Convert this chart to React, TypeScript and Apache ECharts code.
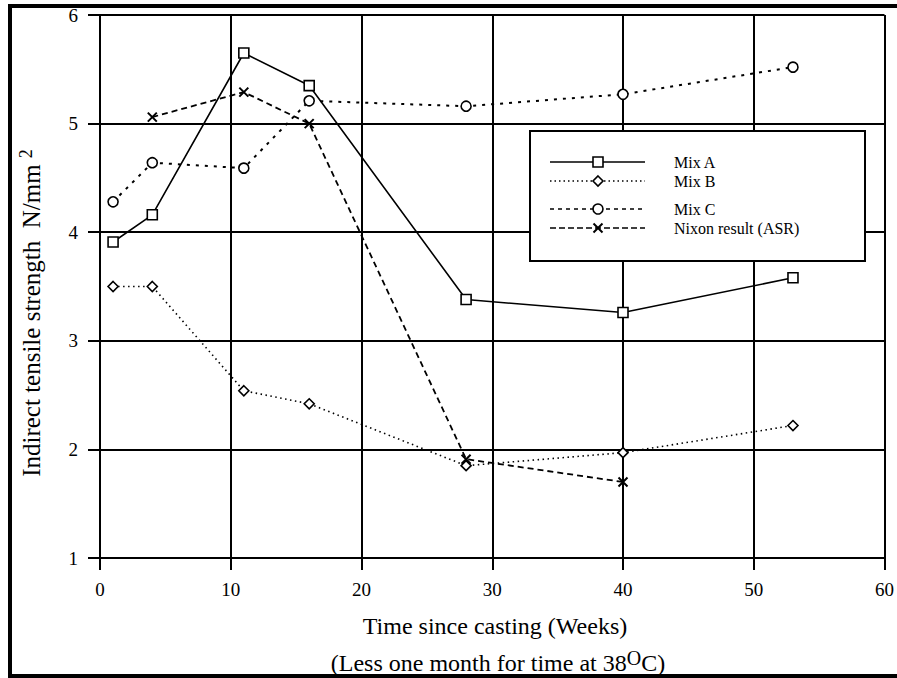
import React, { useEffect, useRef } from "react";
import * as echarts from "echarts";

// Time since casting (weeks) at which each mix was tested
const weeks = [1, 4, 11, 16, 28, 40, 53];
// Indirect tensile strength, N/mm²
const mixA = [3.91, 4.16, 5.65, 5.35, 3.38, 3.26, 3.58];
const mixB = [3.5, 3.5, 2.54, 2.42, 1.85, 1.97, 2.22];
const mixC = [4.28, 4.64, 4.59, 5.21, 5.16, 5.27, 5.52];
const nixonWeeks = [4, 11, 16, 28, 40];
const nixon = [5.06, 5.29, 5.0, 1.91, 1.7];

const seriesNames = ["Mix A", "Mix B", "Mix C", "Nixon result (ASR)"];

const SERIF = "'Liberation Serif', 'Times New Roman', serif";
const CROSS = "path://M0,0L10,10M10,0L0,10";

export default function App() {
  const ref = useRef<HTMLDivElement>(null);

  useEffect(() => {
    const chart = echarts.init(ref.current!, null, { renderer: "svg" });
    const pair = (xs: number[], ys: number[]) => xs.map((x, i) => [x, ys[i]]);

    const lineDefs = [
      { data: pair(weeks, mixA), symbol: "rect", size: 10, dash: "solid" as any, width: 1.6 },
      { data: pair(weeks, mixB), symbol: "diamond", size: 10, dash: [1.5, 3.5], width: 1.6 },
      { data: pair(weeks, mixC), symbol: "circle", size: 10, dash: [3, 6], width: 2 },
      { data: pair(nixonWeeks, nixon), symbol: CROSS, size: 9, dash: [6, 4], width: 1.8 },
    ];

    // legend rows: centre y of each entry inside the box
    const legendRows = [162, 181, 209, 228];
    const legendDash: any[] = [null, [1.5, 3], [4, 4], [6, 3]];
    const lx0 = 550;
    const lx1 = 645;
    const lmid = 598;

    const legendGraphics: any[] = [
      {
        type: "rect",
        z: 100,
        shape: { x: 530, y: 131, width: 335, height: 130 },
        style: { fill: "#fff", stroke: "#000", lineWidth: 2 },
      },
    ];
    seriesNames.forEach((name, i) => {
      const y = legendRows[i];
      legendGraphics.push({
        type: "line",
        z: 101,
        shape: { x1: lx0, y1: y, x2: lx1, y2: y },
        style: { stroke: "#000", lineWidth: 1.6, lineDash: legendDash[i] || undefined },
      });
      if (i === 0) {
        legendGraphics.push({
          type: "rect",
          z: 102,
          shape: { x: lmid - 5, y: y - 5, width: 10, height: 10 },
          style: { fill: "#fff", stroke: "#000", lineWidth: 1.6 },
        });
      } else if (i === 1) {
        legendGraphics.push({
          type: "polygon",
          z: 102,
          shape: { points: [[lmid, y - 5], [lmid + 5, y], [lmid, y + 5], [lmid - 5, y]] },
          style: { fill: "#fff", stroke: "#000", lineWidth: 1.6 },
        });
      } else if (i === 2) {
        legendGraphics.push({
          type: "circle",
          z: 102,
          shape: { cx: lmid, cy: y, r: 5 },
          style: { fill: "#fff", stroke: "#000", lineWidth: 1.6 },
        });
      } else {
        legendGraphics.push(
          {
            type: "line",
            z: 102,
            shape: { x1: lmid - 4.5, y1: y - 4.5, x2: lmid + 4.5, y2: y + 4.5 },
            style: { stroke: "#000", lineWidth: 2 },
          },
          {
            type: "line",
            z: 102,
            shape: { x1: lmid + 4.5, y1: y - 4.5, x2: lmid - 4.5, y2: y + 4.5 },
            style: { stroke: "#000", lineWidth: 2 },
          }
        );
      }
      legendGraphics.push({
        type: "text",
        z: 102,
        x: 674,
        y,
        style: {
          text: name,
          fill: "#000",
          font: `16px ${SERIF}`,
          textAlign: "left",
          textVerticalAlign: "middle",
        },
      });
    });

    const option: any = {
      animation: false,
      backgroundColor: "#fff",
      grid: { left: 100, top: 15, right: 6, bottom: 120, containLabel: false },
      xAxis: {
        type: "value",
        min: 0,
        max: 60,
        interval: 10,
        axisLine: { show: true, lineStyle: { color: "#000", width: 2 } },
        axisTick: { show: true, inside: false, length: 12, lineStyle: { color: "#000", width: 2 } },
        axisLabel: { color: "#000", fontFamily: SERIF, fontSize: 19, margin: 22 },
        splitLine: { show: true, lineStyle: { color: "#000", width: 2 } },
      },
      yAxis: {
        type: "value",
        min: 1,
        max: 6,
        interval: 1,
        axisLine: { show: true, lineStyle: { color: "#000", width: 2 } },
        axisTick: { show: true, inside: false, length: 12, lineStyle: { color: "#000", width: 2 } },
        axisLabel: { color: "#000", fontFamily: SERIF, fontSize: 19, margin: 22 },
        splitLine: { show: true, lineStyle: { color: "#000", width: 2 } },
      },
      series: lineDefs.map((d, i) => ({
        name: seriesNames[i],
        type: "line",
        data: d.data,
        symbol: d.symbol,
        symbolSize: d.size,
        symbolKeepAspect: true,
        showAllSymbol: true,
        z: 5,
        lineStyle: { color: "#000", width: d.width, type: d.dash },
        itemStyle:
          i === 3
            ? { color: "#000", borderColor: "#000", borderWidth: 2 }
            : { color: "#fff", borderColor: "#000", borderWidth: 1.6 },
      })),
      graphic: [
        // outer frame
        { type: "rect", z: 110, shape: { x: 8, y: 4, width: 889, height: 4 }, style: { fill: "#000" } },
        { type: "rect", z: 110, shape: { x: 8, y: 4, width: 4, height: 674 }, style: { fill: "#000" } },
        { type: "rect", z: 110, shape: { x: 8, y: 674, width: 889, height: 4 }, style: { fill: "#000" } },
        // axis titles
        {
          type: "text",
          z: 110,
          x: 31,
          y: 313,
          rotation: Math.PI / 2,
          style: {
            text: "Indirect tensile strength  N/mm {sup|2}",
            fill: "#000",
            font: `25px ${SERIF}`,
            textAlign: "center",
            textVerticalAlign: "middle",
            rich: { sup: { fontSize: 18, fontFamily: SERIF, padding: [0, 0, 11, 0] } },
          },
        },
        {
          type: "text",
          z: 110,
          x: 495,
          y: 626,
          style: {
            text: "Time since casting (Weeks)",
            fill: "#000",
            font: `24px ${SERIF}`,
            textAlign: "center",
            textVerticalAlign: "middle",
          },
        },
        {
          type: "text",
          z: 110,
          x: 498,
          y: 663,
          style: {
            text: "(Less one month for time at 38{sup|O}C)",
            fill: "#000",
            font: `24px ${SERIF}`,
            textAlign: "center",
            textVerticalAlign: "middle",
            rich: { sup: { fontSize: 20, fontFamily: SERIF, padding: [0, 0, 10, 0] } },
          },
        },
        ...legendGraphics,
      ],
    };

    chart.setOption(option);
    return () => chart.dispose();
  }, []);

  return (
    <div
      ref={ref}
      style={{ position: "fixed", left: 0, top: 0, width: 897, height: 678, background: "#fff" }}
    />
  );
}
